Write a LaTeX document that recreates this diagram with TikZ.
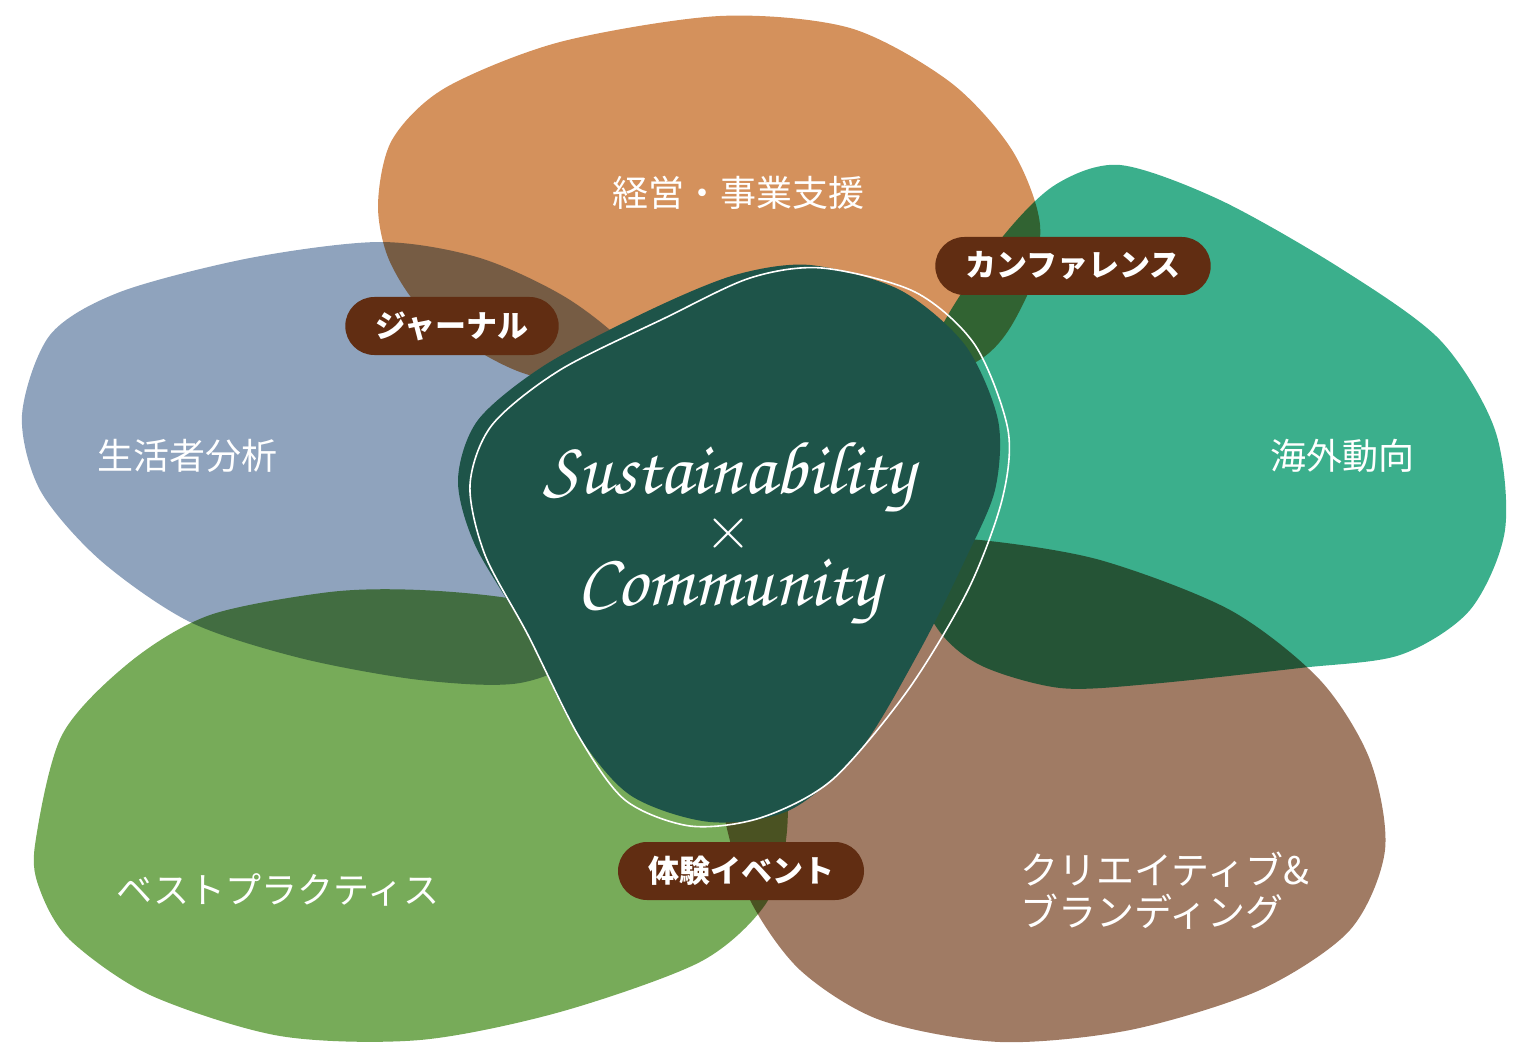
\documentclass[tikz,border=0pt]{standalone}
\usepackage{fontspec}
\newfontfamily\jp{Noto Sans CJK JP}
\newfontfamily\hand{texgyrechorus-mediumitalic.otf}
\definecolor{mgmtorange}{HTML}{D4915C}
\definecolor{lifeblue}{HTML}{8FA3BD}
\definecolor{bestgreen}{HTML}{77AB59}
\definecolor{brandbrown}{HTML}{A07B64}
\definecolor{worldteal}{HTML}{3BAF8C}
\definecolor{coregreen}{HTML}{1E5449}
\definecolor{pillbrown}{HTML}{612D12}
\tikzset{
  blobtext/.style={text=white, font=\jp\fontsize{36}{42}\selectfont, inner sep=0pt},
  pill/.style={fill=pillbrown, text=white, rounded corners=29pt, minimum height=58pt,
    inner xsep=30pt, inner ysep=0pt, font=\jp\bfseries\fontsize{31}{31}\selectfont},
  handtext/.style={text=white, font=\hand\fontsize{75}{56}\selectfont, inner sep=0pt, align=center}
}
\begin{document}
\begin{tikzpicture}[x=1pt, y=-1pt]
    \useasboundingbox (0,0) rectangle (1522,1064);

    % Petali (moltiplicati)
    \begin{scope}[blend group=multiply]
    \fill[mgmtorange] plot[smooth cycle] coordinates {(378,205) (392,140) (445,88) (560,42) (720,16) (850,28) (950,82) (1012,150) (1040,225) (1025,300) (970,365) (800,400) (640,395) (520,372) (430,318) (390,262)};
    \fill[lifeblue] plot[smooth cycle] coordinates {(22,415) (50,335) (120,292) (250,258) (380,242) (480,258) (570,300) (640,360) (690,450) (660,560) (590,650) (520,683) (420,680) (300,658) (190,622) (100,560) (40,490)};
    \fill[bestgreen] plot[smooth cycle] coordinates {(35,845) (62,735) (130,662) (210,615) (330,592) (420,590) (520,600) (640,630) (730,690) (782,770) (786,840) (765,905) (700,962) (560,1012) (420,1040) (280,1036) (150,995) (70,940) (40,890)};
    \fill[brandbrown] plot[smooth cycle] coordinates {(725,820) (750,900) (800,970) (880,1020) (1000,1042) (1130,1030) (1260,990) (1350,930) (1385,850) (1370,760) (1320,680) (1230,610) (1100,560) (980,540) (900,540) (800,580) (740,680) (720,760)};
    \fill[worldteal] plot[smooth cycle] coordinates {(1120,165) (1220,200) (1340,268) (1440,340) (1495,430) (1505,530) (1470,610) (1400,655) (1300,668) (1150,684) (1060,688) (980,665) (935,625) (900,540) (905,440) (940,330) (1000,240) (1055,185)};
    \end{scope}

    % Centro
    \fill[coregreen] plot[smooth cycle] coordinates {(810,265) (900,290) (965,345) (998,420) (995,490) (965,560) (920,650) (860,750) (790,810) (710,822) (630,795) (575,730) (525,630) (475,545) (458,480) (478,420) (545,365) (650,310) (735,275)};
    \draw[white, line width=1.6pt] plot[smooth cycle] coordinates {(822,268) (915,292) (975,345) (1008,430) (1002,500) (968,590) (908,690) (832,780) (760,818) (690,826) (625,800) (578,735) (528,635) (485,555) (470,485) (492,425) (560,370) (665,318) (750,278)};

    \node[handtext] (core) at (729,533) {Sustainability\\{\rmfamily\fontsize{64}{56}\selectfont ×}\\Community};

    % Testi dei petali
    \node[blobtext] (mgmt) at (738,193) {経営・事業支援};
    \node[blobtext] (life) at (187,456) {生活者分析};
    \node[blobtext] (world) at (1342,456) {海外動向};
    \node[blobtext] (best) at (278,890) {ベストプラクティス};
    \node[blobtext, font=\jp\fontsize{38}{42}\selectfont, align=left, anchor=west] (brand) at (1020,891) {クリエイティブ\&\\ブランディング};

    % Etichette
    \node[pill] (journal) at (452,326) {ジャーナル};
    \node[pill] (conf) at (1073,266) {カンファレンス};
    \node[pill] (event) at (741,871) {体験イベント};
\end{tikzpicture}
\end{document}
